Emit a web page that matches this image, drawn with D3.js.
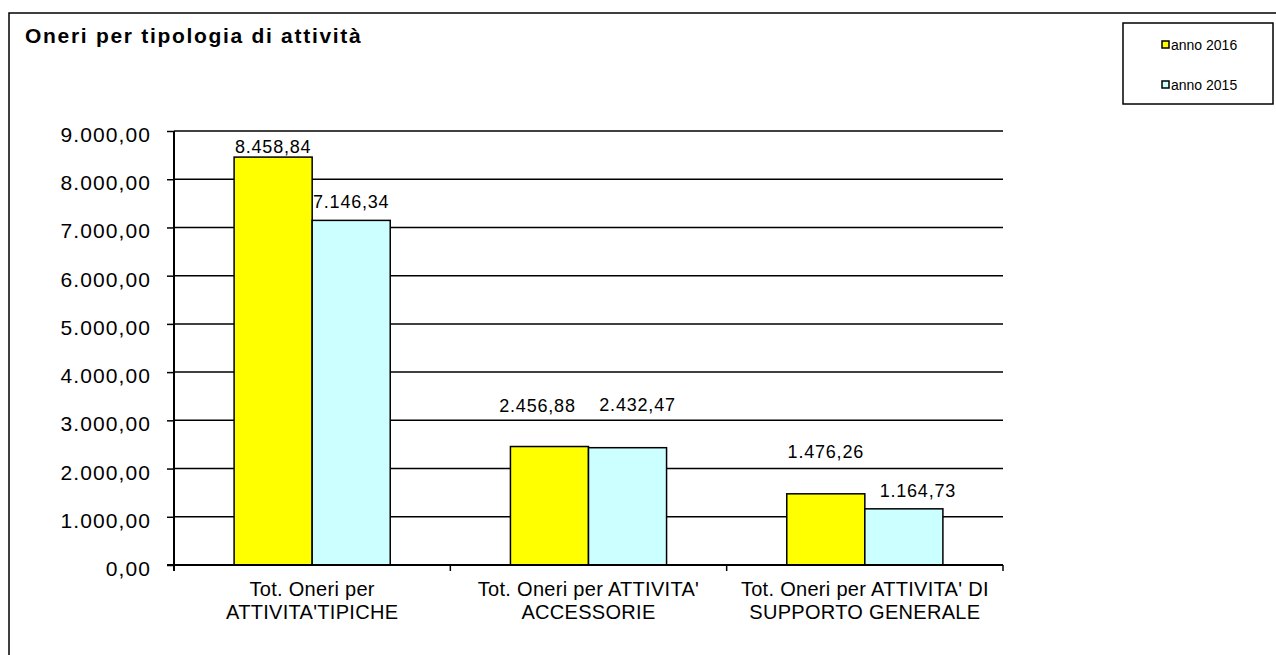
<!DOCTYPE html>
<html>
<head>
<meta charset="utf-8">
<script src="https://cdn.jsdelivr.net/npm/d3@7"></script>
<style>
  body { margin: 0; background: #fff; }
  svg { display: block; font-family: Arial, "Liberation Sans", sans-serif; }
</style>
</head>
<body>
<div id="chart"></div>
<script>

// data
const categories = [
  ["Tot. Oneri per", "ATTIVITA'TIPICHE"],
  ["Tot. Oneri per ATTIVITA'", "ACCESSORIE"],
  ["Tot. Oneri per ATTIVITA' DI", "SUPPORTO GENERALE"]
];
const seriesNames = ["anno 2016", "anno 2015"];
const values2016 = [8458.84, 2456.88, 1476.26];
const values2015 = [7146.34, 2432.47, 1164.73];
const yTicks = [0, 1000, 2000, 3000, 4000, 5000, 6000, 7000, 8000, 9000];

const colors = ["#ffff00", "#ccffff"];

// label nudges (px) as placed in the original sheet
const labelLift = [[4, 12], [35, 37], [36, 12]];
const labelShift = [[0, 0], [-12, 10], [0, 14]];

const W = 1276, H = 655;
const margin = { top: 131, right: 273, bottom: 90, left: 174 };
const width = W - margin.left - margin.right;
const height = H - margin.top - margin.bottom;

const it = d3.formatLocale({ decimal: ",", thousands: ".", grouping: [3], currency: ["€", ""] });
const fmt = it.format(",.2f");

const svg = d3.select("#chart").append("svg")
  .attr("width", W)
  .attr("height", H);

// outer frame
svg.append("rect")
  .attr("x", 9).attr("y", 13)
  .attr("width", W + 20).attr("height", H + 20)
  .attr("fill", "none").attr("stroke", "#000").attr("stroke-width", 1.5);

svg.append("text")
  .attr("x", 25).attr("y", 43)
  .style("font-size", "21px").style("font-weight", "bold")
  .style("letter-spacing", "1.7px")
  .text("Oneri per tipologia di attività");

const g = svg.append("g")
  .attr("transform", "translate(" + margin.left + "," + margin.top + ")");

const x0 = d3.scaleBand()
  .domain(d3.range(categories.length))
  .range([0, width])
  .paddingInner(0.435)
  .paddingOuter(0.2175);

const x1 = d3.scaleBand()
  .domain(d3.range(seriesNames.length))
  .range([0, x0.bandwidth()]);

const y = d3.scaleLinear().domain([0, 9000]).range([height, 0]);

// gridlines
g.append("g")
  .selectAll("line")
  .data(yTicks.filter(d => d > 0))
  .join("line")
  .attr("x1", 0).attr("x2", width)
  .attr("y1", d => y(d)).attr("y2", d => y(d))
  .attr("stroke", "#000").attr("stroke-width", 1.5);

// bars
const rows = categories.map((c, i) => [values2016[i], values2015[i]]);

const groups = g.append("g")
  .selectAll("g")
  .data(rows)
  .join("g")
  .attr("transform", (d, i) => "translate(" + x0(i) + ",0)");

groups.selectAll("rect")
  .data(d => d)
  .join("rect")
  .attr("x", (d, j) => x1(j))
  .attr("y", d => y(d))
  .attr("width", x1.bandwidth())
  .attr("height", d => height - y(d))
  .attr("fill", (d, j) => colors[j])
  .attr("stroke", "#000").attr("stroke-width", 1.5);

groups.each(function(d, i){
  d3.select(this).selectAll("text.val")
    .data(d)
    .join("text")
    .attr("class", "val")
    .attr("x", (v, j) => x1(j) + x1.bandwidth() / 2 + labelShift[i][j])
    .attr("y", (v, j) => y(v) - labelLift[i][j])
    .attr("text-anchor", "middle")
    .style("font-size", "18px")
    .style("letter-spacing", "0.8px")
    .text(v => fmt(v));
});

// y axis
const yAxis = g.append("g")
  .call(d3.axisLeft(y).tickValues(yTicks).tickFormat(fmt).tickSize(7).tickPadding(16).tickSizeOuter(0));
yAxis.select(".domain").attr("stroke-width", 2).attr("d", "M0,0V" + (height + 6));
yAxis.selectAll(".tick line").attr("stroke-width", 1.5);
yAxis.selectAll(".tick text")
  .attr("dy", "0.5em")
  .style("font-size", "21px")
  .style("letter-spacing", "1.1px")
  .attr("fill", "#000");

// x axis
const xAxis = g.append("g")
  .attr("transform", "translate(0," + height + ")");
xAxis.append("line")
  .attr("x1", -7).attr("x2", width)
  .attr("stroke", "#000").attr("stroke-width", 2);
xAxis.selectAll("line.tk")
  .data(d3.range(categories.length + 1))
  .join("line")
  .attr("class", "tk")
  .attr("x1", i => i < categories.length ? x0(i) - x0.step() * x0.paddingInner() / 2 : width)
  .attr("x2", i => i < categories.length ? x0(i) - x0.step() * x0.paddingInner() / 2 : width)
  .attr("y1", 0).attr("y2", 6)
  .attr("stroke", "#000").attr("stroke-width", 1.5);

xAxis.selectAll("text.cat")
  .data(categories)
  .join("text")
  .attr("class", "cat")
  .attr("text-anchor", "middle")
  .attr("x", (d, i) => x0(i) + x0.bandwidth() / 2)
  .attr("y", 31)
  .style("font-size", "20px")
  .style("letter-spacing", "0.3px")
  .each(function(d){
    d3.select(this).selectAll("tspan")
      .data(d)
      .join("tspan")
      .attr("x", d3.select(this).attr("x"))
      .attr("dy", (t, k) => k ? 23 : 0)
      .text(t => t);
  });

// legend
const legend = svg.append("g").attr("transform", "translate(1123,23)");
legend.append("rect")
  .attr("width", 150).attr("height", 81)
  .attr("fill", "#fff").attr("stroke", "#000").attr("stroke-width", 1.5);

const items = legend.selectAll("g")
  .data(seriesNames)
  .join("g")
  .attr("transform", (d, i) => "translate(39," + (22 + i * 40) + ")");
items.append("rect")
  .attr("x", 0).attr("y", -4)
  .attr("width", 7).attr("height", 7)
  .attr("fill", (d, i) => colors[i])
  .attr("stroke", "#000").attr("stroke-width", 1.5);
items.append("text")
  .attr("x", 9).attr("y", 5)
  .style("font-size", "14px")
  .text(d => d);

</script>
</body>
</html>
